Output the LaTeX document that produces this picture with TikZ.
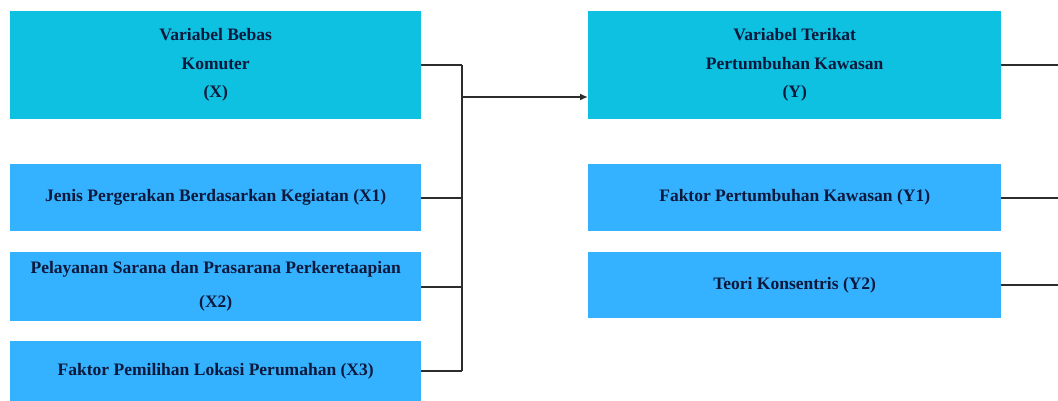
\documentclass[tikz,border=0pt]{standalone}
\usepackage{fontspec}
\setmainfont{Liberation Serif}
\usetikzlibrary{arrows.meta}
\definecolor{topc}{RGB}{14,193,224}
\definecolor{subc}{RGB}{53,178,255}
\definecolor{txt}{RGB}{12,24,60}
\definecolor{ln}{RGB}{45,45,45}
\tikzset{
  box/.style={anchor=north west, inner sep=0pt, align=center, text=txt,
    font=\fontsize{17.5}{28.5}\selectfont\bfseries, minimum width=411pt},
  topbox/.style={box, fill=topc, minimum height=108pt},
  subbox/.style={box, fill=subc},
  conn/.style={draw=ln, line width=1.8pt}
}
\begin{document}
\begin{tikzpicture}[x=1pt,y=-1pt]
\useasboundingbox[fill=white] (0,0) rectangle (1058,401);
\node[topbox] (X) at (10,11) {Variabel Bebas\\Komuter\\(X)};
\node[subbox, minimum height=67pt] (X1) at (10,164) {Jenis Pergerakan Berdasarkan Kegiatan (X1)};
\node[subbox, minimum height=69pt, font=\fontsize{17.5}{34}\selectfont\bfseries] (X2) at (10,252) {Pelayanan Sarana dan Prasarana Perkeretaapian\\(X2)};
\node[subbox, minimum height=60pt] (X3) at (10,341) {Faktor Pemilihan Lokasi Perumahan (X3)};
\node[topbox, minimum width=413pt] (Y) at (588,11) {Variabel Terikat\\Pertumbuhan Kawasan\\(Y)};
\node[subbox, minimum width=413pt, minimum height=67pt] (Y1) at (588,164) {Faktor Pertumbuhan Kawasan (Y1)};
\node[subbox, minimum width=413pt, minimum height=66pt] (Y2) at (588,252) {Teori Konsentris (Y2)};
\coordinate (busx) at (462,0);
\coordinate (mid) at (462,97);
\coordinate (rx) at (1058,0);
\draw[conn] (X.east) -- (X.east -| busx);
\draw[conn] (X1.east) -- (X1.east -| busx);
\draw[conn] (X2.east) -- (X2.east -| busx);
\draw[conn] (X3.east) -- (X3.east -| busx);
\draw[conn] (X.east -| busx) -- (X3.east -| busx);
\draw[conn, -{Latex[length=8pt,width=7pt]}] (mid) -- (mid -| Y.west);
\draw[conn] (Y.east) -- (Y.east -| rx);
\draw[conn] (Y1.east) -- (Y1.east -| rx);
\draw[conn] (Y2.east) -- (Y2.east -| rx);
\end{tikzpicture}
\end{document}
